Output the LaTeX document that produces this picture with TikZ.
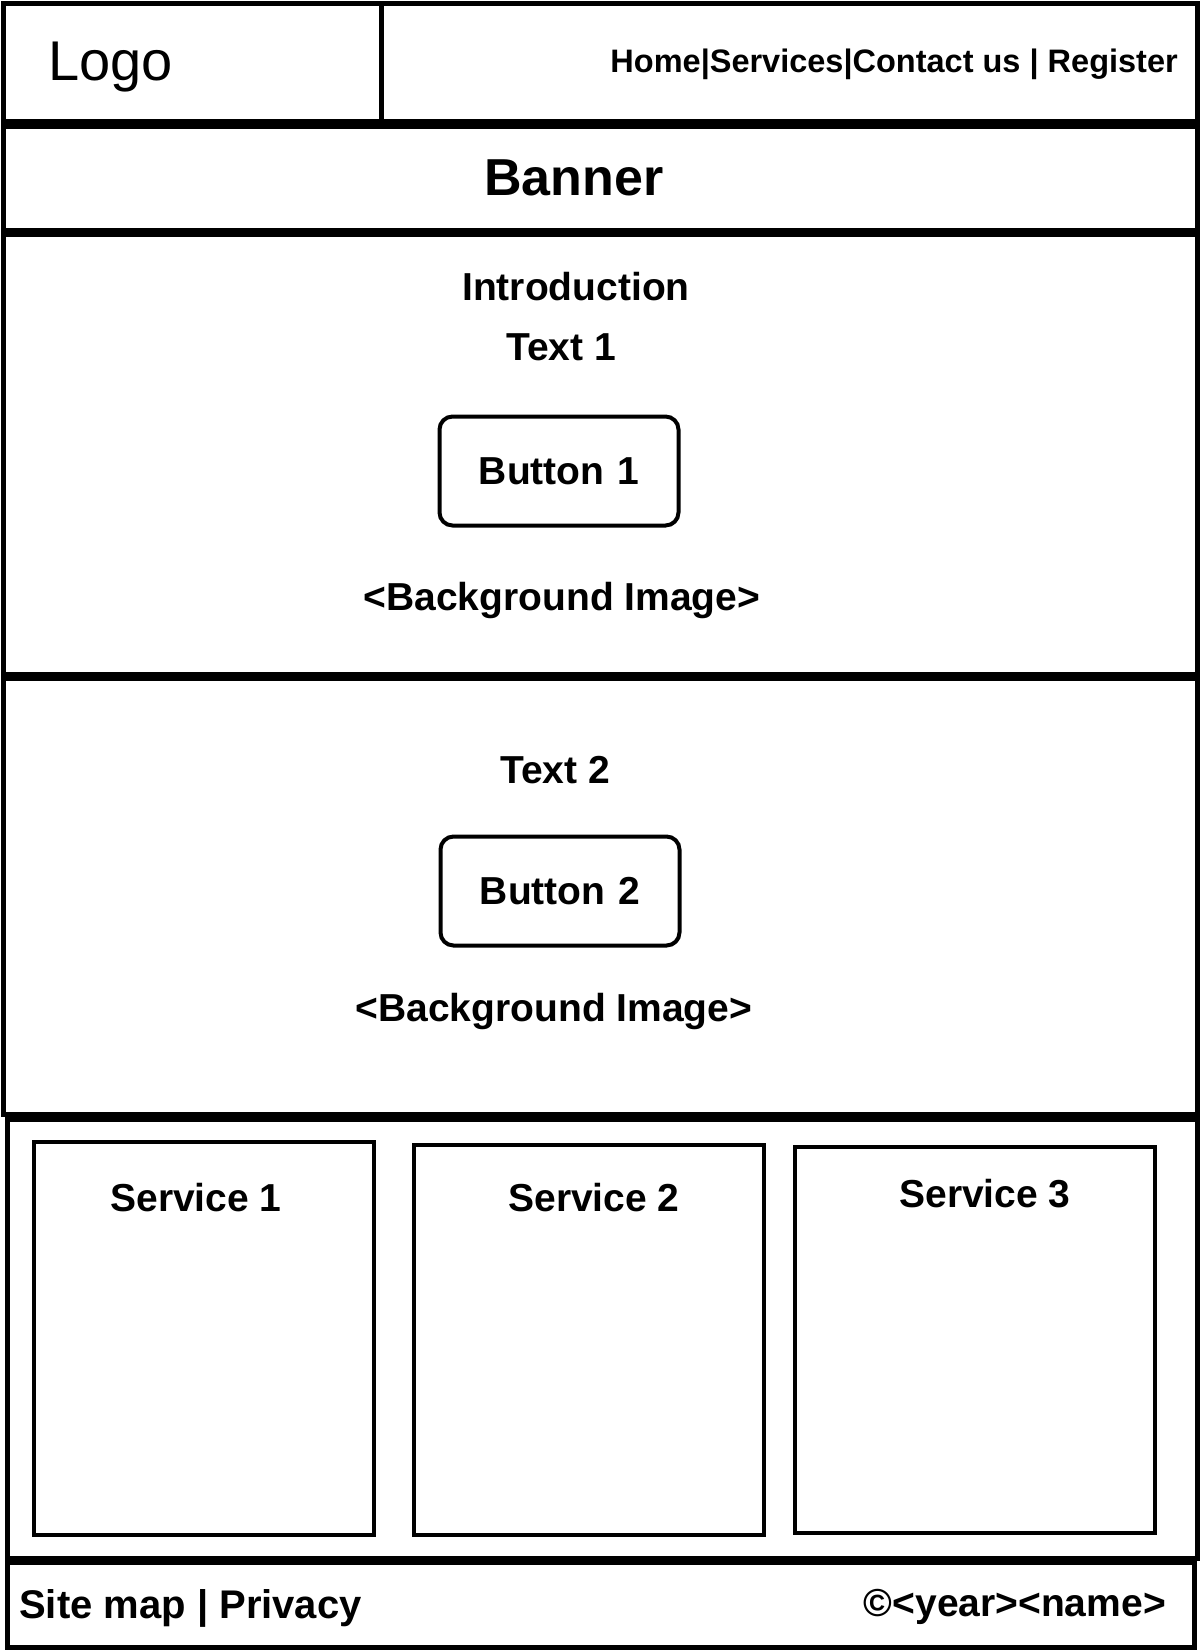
\documentclass[tikz,border=0pt]{standalone}
\usepackage{fontspec}
\setmainfont{Liberation Sans}

\begin{document}
\begin{tikzpicture}
  [x=1pt,y=-1pt,
   every node/.style={inner sep=0pt,font=\bfseries\fontsize{39}{44}\selectfont},
   panel/.style={draw,line width=5pt},
   card/.style={draw,line width=4pt},
   btn/.style={draw,line width=4pt,rounded corners=13pt,minimum width=239pt,minimum height=109pt}]
  \path[fill=white] (0,0) rectangle (1200,1650);
  \useasboundingbox (0,0) rectangle (1200,1650);

  \draw[panel] (3,3) rectangle (381,121);
  \draw[panel] (381,3) rectangle (1197,121);
  \draw[panel] (3,126) rectangle (1197,230);
  \draw[panel] (3,234) rectangle (1197,674);
  \draw[panel] (3,678) rectangle (1197,1114);
  \draw[panel] (7,1119) rectangle (1197,1558);
  \draw[panel] (7,1562) rectangle (1194,1647);

  \node[anchor=base west,font=\fontsize{56}{62}\selectfont] (logo) at (48,80) {Logo};
  \node[anchor=base east,font=\bfseries\fontsize{32.5}{38}\selectfont] (menu) at (1178,72) {Home|Services|Contact us | Register};
  \node[anchor=base,font=\bfseries\fontsize{52}{58}\selectfont] (banner) at (574,195) {Banner};

  \node[anchor=base] (intro) at (576,300) {Introduction};
  \node[anchor=base] (text1) at (561,360) {Text 1};
  \node[btn,text width=225pt,align=center] (button1) at (559,471) {Button 1\hspace*{8pt}};
  \node[anchor=base] (bgimage1) at (562,610) {<Background Image>};

  \node[anchor=base] (text2) at (555,783) {Text 2};
  \node[btn,text width=225pt,align=center] (button2) at (560,891) {Button 2\hspace*{10pt}};
  \node[anchor=base] (bgimage2) at (554,1021) {<Background Image>};

  \draw[card] (34,1142) rectangle (374,1535);
  \draw[card] (414,1145) rectangle (764,1535);
  \draw[card] (795,1147) rectangle (1155,1533);
  \node[anchor=base] (service1) at (196,1211) {Service 1};
  \node[anchor=base] (service2) at (594,1211) {Service 2};
  \node[anchor=base] (service3) at (985,1207) {Service 3};

  \node[anchor=base west,font=\bfseries\fontsize{40}{45}\selectfont] (sitemap) at (19,1618) {Site map | Privacy};
  \node[anchor=base east] (copyright) at (1166,1616) {©<year><name>};
\end{tikzpicture}
\end{document}
